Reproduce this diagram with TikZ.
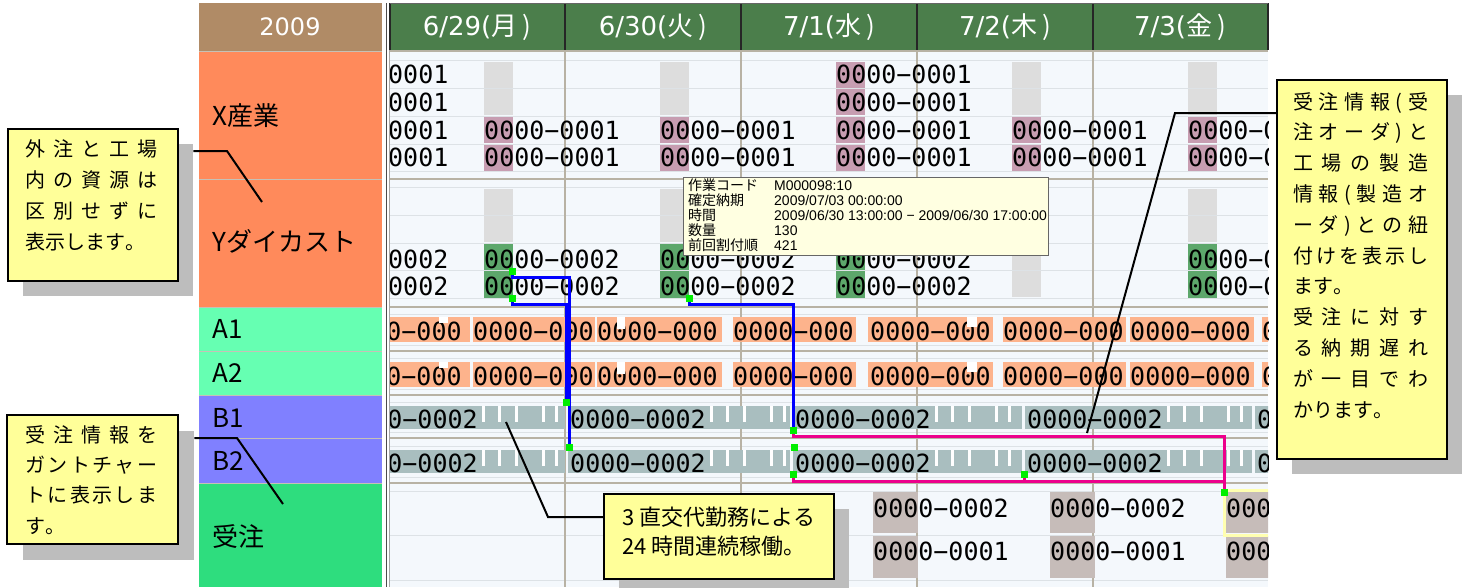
\documentclass[tikz,border=0pt]{standalone}
\usepackage{fontspec}
\setmainfont{Noto Sans CJK JP}
\newfontfamily\jpf{Noto Sans CJK JP}
\newfontfamily\calf[Kerning=Off]{Noto Sans CJK JP}
\newfontfamily\monof{DejaVu Sans Mono}
\newfontfamily\dvf{DejaVu Sans}
\newfontfamily\uif{Liberation Sans}
\newcommand\fs[1]{\fontsize{#1}{#1}\selectfont}
\makeatletter
\def\spr@a#1{\ifx#1\relax\else#1\expandafter\spr@b\fi}
\def\spr@b#1{\ifx#1\relax\else\hfil#1\expandafter\spr@b\fi}
\newcommand\spreadline[2]{\makebox[#1][s]{\expandafter\spr@a#2\relax}}
\makeatother
\definecolor{hdrbrown}{HTML}{B08B66}
\definecolor{hdrgreen}{HTML}{4B7E4B}
\definecolor{orgc}{HTML}{FF8A5B}
\definecolor{mintc}{HTML}{66FFB2}
\definecolor{purc}{HTML}{8080FF}
\definecolor{ordc}{HTML}{2EDD7E}
\definecolor{chartbg}{HTML}{F4F8FC}
\definecolor{gridl}{HTML}{DDE2E6}
\definecolor{grids}{HTML}{B8B2A4}
\definecolor{boxgray}{HTML}{DDDDDD}
\definecolor{boxpink}{HTML}{C79DB1}
\definecolor{boxgreen}{HTML}{5DA76B}
\definecolor{salmon}{HTML}{FDB38C}
\definecolor{tealb}{HTML}{A9BEBF}
\definecolor{ordbox}{HTML}{C6BCB9}
\definecolor{tipc}{HTML}{FFFFE1}
\definecolor{callc}{HTML}{FFFF99}
\definecolor{shadc}{HTML}{BDBDBD}
\definecolor{mkg}{HTML}{00EE00}
\definecolor{hilite}{HTML}{FFFFB0}
\begin{document}
\begin{tikzpicture}[x=1pt,y=-1pt,
  mono/.style={font=\monof\fs{25}, inner sep=0pt, anchor=base west, text height=18pt, text depth=1pt},
  lbl/.style={font=\jpf\fs{26}, inner sep=0pt, anchor=base west},
  hdr/.style={font=\dvf\fs{24}, text=white, inner sep=0pt},
  dayh/.style={font=\dvf\fs{26}, text=white, inner sep=0pt},
  tipl/.style={font=\jpf\fs{14}, inner sep=0pt, anchor=base west, text height=11pt, text depth=2pt},
  tipv/.style={font=\uif\fs{14}, inner sep=0pt, anchor=base west, text height=11pt, text depth=2pt},
  cal/.style={font=\calf\fs{20}, inner sep=0pt, anchor=base west, text height=16pt, text depth=3pt},
  bl/.style={draw=blue, line width=3pt},
  mg/.style={draw=magenta, line width=3pt},
  mk/.style={fill=mkg, minimum size=7pt, inner sep=0pt, draw=none},
  leader/.style={draw=black, line width=2pt},
  cbox/.style={fill=callc, draw=black, line width=2pt, anchor=north west, inner sep=0pt},
  shad/.style={fill=shadc, anchor=north west, inner sep=0pt, draw=none},
  strong/.style={draw=grids, line width=1.2pt},
  light/.style={draw=gridl, line width=0.8pt}]
\useasboundingbox (0,0) rectangle (1465,587);
\fill[white] (0,0) rectangle (1465,587);

% ---------- label column ----------
\fill[hdrbrown] (199,3) rectangle (382,51);
\node[hdr] (yr) at (290,27) {2009};
\fill[orgc] (199,51) rectangle (382,307);
\fill[mintc] (199,307) rectangle (382,395);
\fill[purc] (199,395) rectangle (382,483);
\fill[ordc] (199,483) rectangle (382,587);
\foreach \y in {51,179,307,351,395,438,483} {\draw[draw=grids!80, line width=1pt] (199,\y) -- (382,\y);}
\node[lbl] (lx) at (212,125) {X産業};
\node[lbl] (ly) at (212,251) {Yダイカスト};
\node[lbl] (la1) at (212,338) {A1};
\node[lbl] (la2) at (212,382) {A2};
\node[lbl] (lb1) at (212,427) {B1};
\node[lbl] (lb2) at (212,470) {B2};
\node[lbl] (lj) at (212,546) {受注};

% separator between columns
\draw[draw=black!70, line width=1.4pt] (386.5,3) -- (386.5,587);
\draw[draw=black!35, line width=0.8pt] (389.3,3) -- (389.3,587);

% ---------- header ----------
\fill[hdrgreen] (390,3) rectangle (1268,50);
\foreach \x in {390,565,741,917,1093,1268} {\draw[draw=black!85, line width=1.3pt] (\x,3) -- (\x,50);}
\draw[draw=black!60, line width=0.8pt] (390,3) -- (1268,3);
\node[dayh] (d1) at (477,27) {6/29(\jpf 月\kern5pt)};
\node[dayh] (d2) at (653,27) {6/30(\jpf 火\kern5pt)};
\node[dayh] (d3) at (829,27) {7/1(\jpf 水\kern5pt)};
\node[dayh] (d4) at (1005,27) {7/2(\jpf 木\kern5pt)};
\node[dayh] (d5) at (1180,27) {7/3(\jpf 金\kern5pt)};

% ---------- chart area ----------
\fill[chartbg] (390,51) rectangle (1268,587);
\foreach \y in {60,88,116,144,171,187,215,243,270,298,314,345,358,389,402,432,446,477,491,535,580} {\draw[light] (390,\y) -- (1268,\y);}
\foreach \y in {51,179,307,351,395,438,483} {\draw[strong] (390,\y) -- (1268,\y);}
\foreach \x in {565,741,917,1093} {\draw[strong] (\x,51) -- (\x,587);}

\begin{scope}
\clip (390,51) rectangle (1268,587);
% X row
\foreach \c in {484,660,1012,1188} {\fill[boxgray] (\c,62) rectangle ++(29,26); \fill[boxgray] (\c,89) rectangle ++(29,26);}
\foreach \c in {484,660,836,1012,1188} {\fill[boxpink] (\c,117) rectangle ++(29,26); \fill[boxpink] (\c,145) rectangle ++(29,26);}
\fill[boxpink] (836,62) rectangle ++(29,26); \fill[boxpink] (836,89) rectangle ++(29,26);
\foreach \c [count=\i] in {312.7,484,660,836,1012,1188} {
  \node[mono] (xa\i) at (\c,139) {0000−0001};
  \node[mono] (xb\i) at (\c,166) {0000−0001};}
\foreach \c [count=\i] in {312.7,836} {
  \node[mono] (xc\i) at (\c,83) {0000−0001};
  \node[mono] (xd\i) at (\c,111) {0000−0001};}
% Y row
\foreach \c in {484,660,836,1012,1188} {\fill[boxgray] (\c,189) rectangle ++(29,26); \fill[boxgray] (\c,216) rectangle ++(29,26);}
\fill[boxgray] (1012,244) rectangle ++(29,26); \fill[boxgray] (1012,271) rectangle ++(29,26);
\foreach \c in {484,660,836,1188} {\fill[boxgreen] (\c,244) rectangle ++(29,26); \fill[boxgreen] (\c,271) rectangle ++(29,27);}
\foreach \c [count=\i] in {312.7,484,660,836,1188} {
  \node[mono] (ya\i) at (\c,268) {0000−0002};
  \node[mono] (yb\i) at (\c,295) {0000−0002};}
% A rows
\foreach \ry/\rb/\nm in {317/340/aa,362/385/ab} {
  \foreach \x/\e/\s [count=\i] in {385/470/341,473/595/473,597/722/597,733/856/733,868/993/870,1003/1126/1003,1130/1254/1130,1262/1275/1262} {
    \fill[salmon] (\x,\ry) rectangle (\e,\ry+25);
    \begin{scope}
      \clip (\x,\ry) rectangle (\e,\ry+25);
      \node[mono] (\nm\i) at (\s,\rb) {0000−000};
    \end{scope}}
  \fill[white] (439,\ry) rectangle ++(9,6);
  \fill[white] (617,\ry) rectangle ++(8,12);
  \fill[white] (967,\ry) rectangle ++(10,10);}
% B rows
\foreach \ry/\rb/\nm in {406/428/ba,450/472/bb} {
  \foreach \x/\e/\s [count=\i] in {385/565/342,568/790/570,793/1022/795,1025/1252/1027,1255/1275/1257} {
    \fill[tealb] (\x,\ry) rectangle (\e,\ry+23);
    \foreach \n in {140,156,173,200,213} {\fill[white] (\s+\n,\ry) rectangle (\s+\n+2.5,\ry+16);}
    \begin{scope}
      \clip (\x,\ry) rectangle (\e,\ry+23);
      \node[mono] (\nm\i) at (\s,\rb) {0000−0002};
    \end{scope}}}
% orders row
\foreach \c in {873,1050,1226} {\fill[ordbox] (\c,492) rectangle ++(45,41); \fill[ordbox] (\c,536) rectangle ++(45,42);}
\draw[draw=hilite, line width=3pt] (1224,490) rectangle (1275,535);
\foreach \c [count=\i] in {873,1050,1226} {
  \node[mono] (ja\i) at (\c,517) {0000−0002};
  \node[mono] (jb\i) at (\c,560) {0000−0001};}
\end{scope}

% ---------- link connectors ----------
\coordinate (g1) at (512,271);
\coordinate (g2) at (569,447);
\coordinate (g3) at (512,298);
\coordinate (g4) at (566,402);
\coordinate (g5) at (689,298);
\coordinate (g6) at (793,430);
\coordinate (g7) at (794,447);
\coordinate (g8) at (793,474);
\coordinate (g9) at (1024,474);
\coordinate (g10) at (1224,492);
\draw[bl] (g1) -- ++(0,6) -| (g2);
\draw[bl] (g3) -- ++(0,6) -| (g4);
\draw[bl] (g5) -- ++(0,6) -| (g6);
\draw[mg] (g6) -- ++(0,6) -| (g10);
\draw[mg] (g8) -- ++(0,7) -| (g10);
\draw[mg] (g9) -- ++(0,7) -| (g10);
\foreach \g in {1,...,10} {\node[mk] (mk\g) at (g\g) {};}

% ---------- tooltip ----------
\node[draw=black!60, fill=tipc, minimum width=365pt, minimum height=78pt, inner sep=0pt, anchor=north west, line width=0.8pt] (tip) at (683,177) {};
\node[tipl] (tl1) at (688,190) {作業コード};
\node[tipl] (tl2) at (688,205) {確定納期};
\node[tipl] (tl3) at (688,220) {時間};
\node[tipl] (tl4) at (688,235) {数量};
\node[tipl] (tl5) at (688,250) {前回割付順};
\node[tipv] (tv1) at (774,190) {M000098:10};
\node[tipv] (tv2) at (774,205) {2009/07/03 00:00:00};
\node[tipv] (tv3) at (774,220) {2009/06/30 13:00:00 − 2009/06/30 17:00:00};
\node[tipv] (tv4) at (774,235) {130};
\node[tipv] (tv5) at (774,250) {421};

% ---------- callouts ----------
\node[shad, minimum width=170pt, minimum height=152pt] (c1s) at (23,144) {};
\node[cbox, minimum width=170pt, minimum height=152pt] (c1) at (7,128) {};
\foreach \t/\j/\b [count=\i] in {外注と工場/1/156,内の資源は/1/187,区別せずに/1/218,表示します。/0/249} {
  \node[cal] (c1t\i) at (25,\b) {\ifnum\j=1 \spreadline{132pt}{\t}\else\t\fi};}

\node[shad, minimum width=171pt, minimum height=129pt] (c2s) at (23,431) {};
\node[cbox, minimum width=171pt, minimum height=129pt] (c2) at (6,414) {};
\foreach \t/\j/\b [count=\i] in {受注情報を/1/442,ガントチャー/1/472,トに表示しま/1/502,す。/0/533} {
  \node[cal] (c2t\i) at (25,\b) {\ifnum\j=1 \spreadline{132pt}{\t}\else\t\fi};}

\node[shad, minimum width=170pt, minimum height=379pt] (c3s) at (1292,95) {};
\node[cbox, minimum width=170pt, minimum height=379pt] (c3) at (1276,79) {};
\node[inner sep=0pt, anchor=base west] (c3t) at (1293,109) {\calf\fs{20}\vtop{\hsize=135pt\parindent=0pt\baselineskip=30.8pt\lineskiplimit=-100pt\lineskip=0pt
\spreadline{135pt}{受注情報(受}\par
\spreadline{135pt}{注オーダ)と}\par
\spreadline{135pt}{工場の製造}\par
\spreadline{135pt}{情報(製造オ}\par
\spreadline{135pt}{ーダ)との紐}\par
\spreadline{135pt}{付けを表示し}\par
ます。\par
\spreadline{135pt}{受注に対す}\par
\spreadline{135pt}{る納期遅れ}\par
\spreadline{135pt}{が一目でわ}\par
かります。}};

\node[shad, minimum width=230pt, minimum height=85pt] (c4s) at (619,509) {};
\node[cbox, minimum width=230pt, minimum height=85pt] (c4) at (603,493) {};
\node[cal, font=\calf\fs{22}] (c4t1) at (622,525) {3 直交代勤務による};
\node[cal, font=\calf\fs{22}] (c4t2) at (622,554) {24 時間連続稼働。};

% ---------- leaders ----------
\coordinate (l1b) at (227,151);
\coordinate (l1c) at (262,202);
\draw[leader] (c1s.east |- l1b) -- (l1b) -- (l1c);
\coordinate (l2b) at (237,438);
\coordinate (l2c) at (283,504);
\draw[leader] (c2s.east |- l2b) -- (l2b) -- (l2c);
\coordinate (l3b) at (1175,113);
\coordinate (l3c) at (1087,433);
\draw[leader] (c3.west |- l3b) -- (l3b) -- (l3c);
\coordinate (l4b) at (548,517);
\coordinate (l4c) at (506,422);
\draw[leader] (c4.west |- l4b) -- (l4b) -- (l4c);
\end{tikzpicture}
\end{document}
